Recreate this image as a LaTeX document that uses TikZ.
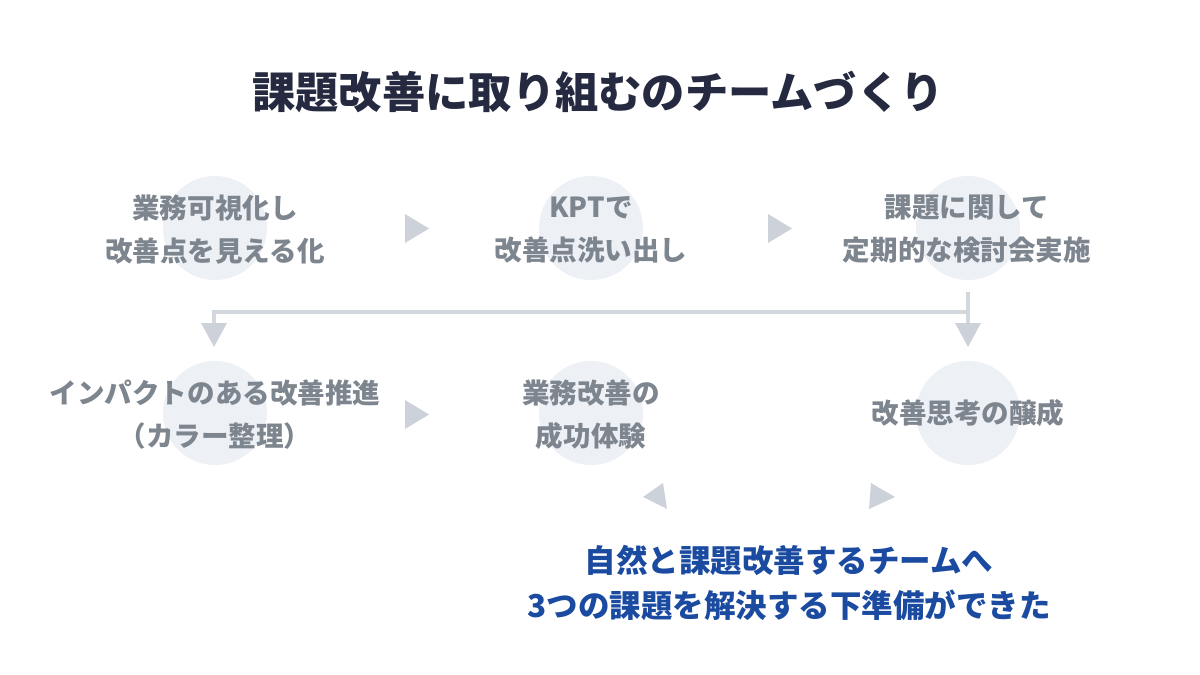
\documentclass[tikz,border=0pt]{standalone}
\usepackage{fontspec}
\newfontfamily\jp{Noto Sans CJK JP}
\usetikzlibrary{arrows.meta}
\definecolor{titlec}{HTML}{262A40}
\definecolor{labelc}{HTML}{7D858E}
\definecolor{circc}{HTML}{EDF0F5}
\definecolor{tric}{HTML}{CDD2DA}
\definecolor{linec}{HTML}{D3D7DE}
\definecolor{bluec}{HTML}{1A4BA0}
\tikzset{
  stepcirc/.style={circle, fill=circc, minimum size=104*0.7113pt, inner sep=0pt},
  steplabel/.style={text=labelc, align=center, inner sep=0pt, font=\jp\bfseries\fontsize{19.6}{30.6}\selectfont},
  tri/.style={fill=tric, draw=none},
  conn/.style={draw=linec, line width=2.2pt, -{Triangle[length=17pt, width=17.8pt, color=tric]}},
}
\begin{document}
\begin{tikzpicture}[x=0.025cm, y=-0.025cm]
\useasboundingbox (0,0) rectangle (1200,675);
\fill[white] (0,0) rectangle (1200,675);
% title
\node[text=titlec, inner sep=0pt, font=\jp\bfseries\fontsize{30.8}{36}\selectfont] (title) at (598,92) {課題改善に取り組むのチームづくり};
% circles
\node[stepcirc] (c1) at (215,228) {};
\node[stepcirc] (c2) at (591,228) {};
\node[stepcirc] (c3) at (968,228) {};
\node[stepcirc] (c4) at (215,413) {};
\node[stepcirc] (c5) at (591,413) {};
\node[stepcirc] (c6) at (968,413) {};
% labels
\node[steplabel] (t1) at (215,229.5) {業務可視化し\\改善点を見える化};
\node[steplabel] (t2) at (591,229.5) {KPTで\\改善点洗い出し};
\node[steplabel] (t3) at (967,229.5) {課題に関して\\定期的な検討会実施};
\node[steplabel] (t4) at (215,415) {インパクトのある改善推進\\（カラー整理）};
\node[steplabel] (t5) at (591,415) {業務改善の\\成功体験};
\node[steplabel] (t6) at (968,413) {改善思考の醸成};
% row arrows
\fill[tri] (405,214) -- (429,228.5) -- (405,243) -- cycle;
\fill[tri] (768,214) -- (792,228.5) -- (768,243) -- cycle;
\fill[tri] (405,400) -- (429,414.5) -- (405,429) -- cycle;
% bottom arrows
\fill[tri] (643,497) -- (663,483) -- (667,509) -- cycle;
\fill[tri] (895,497) -- (871,483) -- (869,509) -- cycle;
% connector
\coordinate (src) at (968,292);
\coordinate (split) at (968,312);
\coordinate (endL) at (214,347);
\coordinate (endR) at (968,347);
\draw[conn] (src) -- (split) -| (endL);
\draw[conn] (split) -- (endR);
% bottom message
\node[text=bluec, align=center, inner sep=0pt, font=\jp\bfseries\fontsize{22.4}{32}\selectfont] (msg) at (789,582.5) {自然と課題改善するチームへ\\3つの課題を解決する下準備ができた};
\end{tikzpicture}
\end{document}
